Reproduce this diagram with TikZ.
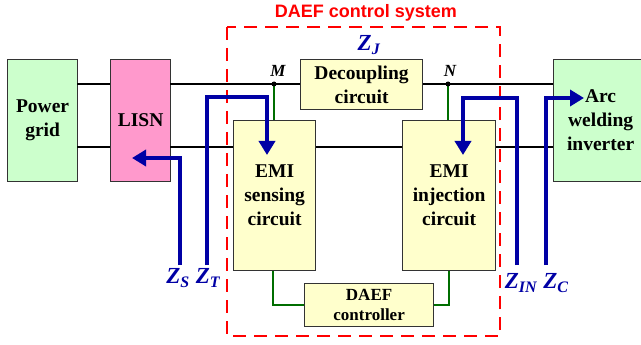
\documentclass[tikz,border=0pt]{standalone}
\usepackage{fontspec}
\setmainfont{Liberation Serif}
\newfontfamily\arialfont{Liberation Sans}
\usetikzlibrary{arrows.meta}
\definecolor{zblue}{RGB}{0,0,165}
\definecolor{gfill}{RGB}{204,255,204}
\definecolor{pfill}{RGB}{255,153,204}
\definecolor{yfill}{RGB}{255,255,204}
\definecolor{gline}{RGB}{0,110,0}
\begin{document}
\begin{tikzpicture}[x=1pt,y=-1pt,
  blk/.style={draw=black!80,line width=1.2pt,inner sep=0pt,align=center,font=\bfseries\fontsize{19.5}{24}\selectfont},
  wire/.style={black,line width=1.3pt},
  gw/.style={gline,line width=1.2pt},
  zarrow/.style={zblue,line width=4.5pt,-{Triangle[length=14pt,width=16pt]}},
  zlab/.style={zblue,font=\bfseries\itshape\fontsize{23}{24}\selectfont,inner sep=0pt},
  dot/.style={circle,fill=black,inner sep=0pt,minimum size=5pt}]
\useasboundingbox (0,0) rectangle (641,345);
\coordinate (M) at (274,84);
\coordinate (N) at (448,84);
\node[blk,fill=gfill,minimum width=70pt,minimum height=122pt,anchor=north west] (pg) at (7,59) {Power\\grid};
\node[blk,fill=pfill,minimum width=60pt,minimum height=122pt,anchor=north west] (lisn) at (110,59) {LISN};
\node[blk,fill=gfill,minimum width=94pt,minimum height=122pt,anchor=north west] (arc) at (553,59) {Arc\\welding\\inverter};
\draw[wire] (77,84) -- (110,84);
\draw[wire] (77,147) -- (110,147);
\draw[wire] (170,84) -- (300,84);
\draw[wire] (422,84) -- (553,84);
\draw[wire] (170,147) -- (553,147);
\draw[gw] (M) -- (274,120);
\draw[gw] (N) -- (448,120);
\node[blk,fill=yfill,minimum width=82pt,minimum height=150pt,anchor=north west] (sens) at (233,120) {EMI\\sensing\\circuit};
\node[blk,fill=yfill,minimum width=93pt,minimum height=150pt,anchor=north west] (inj) at (402,120) {EMI\\injection\\circuit};
\node[blk,fill=yfill,minimum width=122pt,minimum height=50pt,anchor=north west] (dec) at (300,59) {Decoupling\\circuit};
\node[blk,fill=yfill,minimum width=129pt,minimum height=43pt,anchor=north west,font=\bfseries\fontsize{17}{20}\selectfont] (ctrl) at (304,283) {DAEF\\controller};
\draw[gw] (sens.south -| 273,0) |- (ctrl.west |- 0,305);
\draw[gw] (ctrl.east |- 0,305) -| (inj.south -| 449,0);
\node[dot] at (M) {};
\node[dot] at (N) {};
\node[font=\bfseries\itshape\fontsize{17}{18}\selectfont] (ml) at (278,71) {M};
\node[font=\bfseries\itshape\fontsize{17}{18}\selectfont] (nl) at (450,71) {N};
\draw[red,line width=2pt,dash pattern=on 13pt off 8pt] (227,27) rectangle (500,336);
\node[red,font=\arialfont\bfseries\fontsize{18}{20}\selectfont] (title) at (366,13) {DAEF control system};
\coordinate (zs0) at (180,265);
\coordinate (zt0) at (207,265);
\coordinate (zi0) at (517,265);
\coordinate (zc0) at (546,265);
\draw[zarrow] (zs0) -- (180,158) -- (132,158);
\draw[zarrow] (zt0) -- (207,97) -- (267,97) -- (267,155);
\draw[zarrow] (zi0) -- (517,98) -- (463,98) -- (463,155);
\draw[zarrow] (zc0) -- (546,98) -- (584,98);
\node[zlab] (zs) at (178,278) {Z\textsubscript{\fontsize{16}{16}\selectfont S}};
\node[zlab] (zt) at (208,278) {Z\textsubscript{\fontsize{16}{16}\selectfont T}};
\node[zlab] (zin) at (521,283) {Z\textsubscript{\fontsize{16}{16}\selectfont IN}};
\node[zlab] (zc) at (556,283) {Z\textsubscript{\fontsize{16}{16}\selectfont C}};
\node[zlab] (zj) at (369,45) {Z\textsubscript{\fontsize{16}{16}\selectfont J}};
\end{tikzpicture}
\end{document}
